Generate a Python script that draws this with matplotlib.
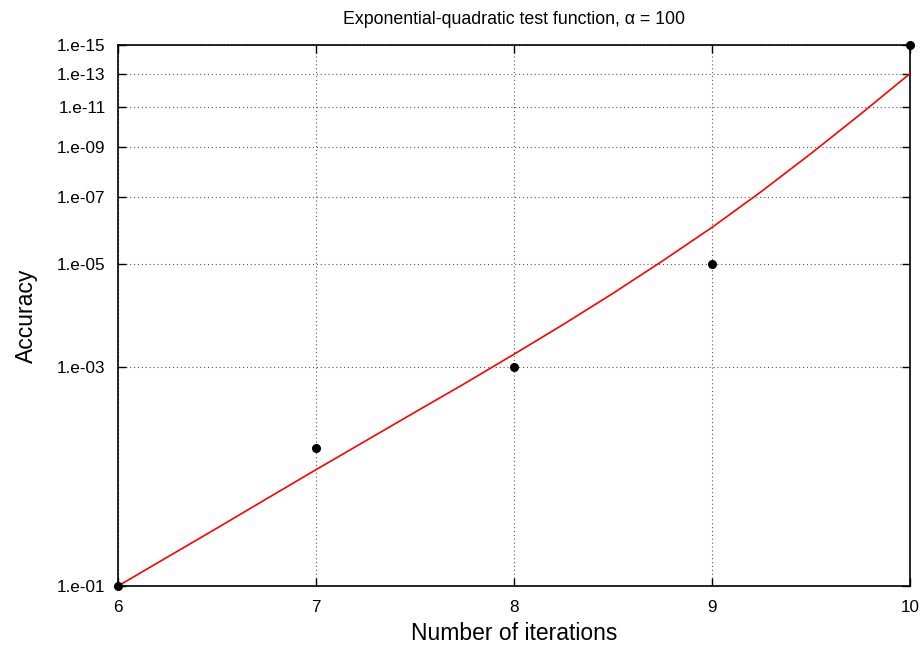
import numpy as np
import matplotlib
matplotlib.use("Agg")
import matplotlib.pyplot as plt
from matplotlib.ticker import FixedLocator, NullLocator

plt.rcParams['font.family'] = ['Liberation Sans', 'DejaVu Sans']

# measured accuracy, stored as number of correct digits (accuracy = 10^-digits)
iters = [6, 7, 8, 9, 10]
digits = [1, 2, 3, 5, 15]

# predicted accuracy curve
curve_x = [6.0, 6.25, 6.5, 6.75, 7.0, 7.25, 7.5, 7.75, 8.0,
           8.25, 8.5, 8.75, 9.0, 9.25, 9.5, 9.75, 10.0]
curve_digits = [1.0, 1.156, 1.336, 1.547, 1.79, 2.067, 2.387, 2.754, 3.19,
                3.706, 4.328, 5.089, 6.02, 7.207, 8.714, 10.61, 13.0]

ytick_digits = [1, 3, 5, 7, 9, 11, 13, 15]
ytick_labels = ["1.e-%02d" % d for d in ytick_digits]
xticks = [6, 7, 8, 9, 10]

fig = plt.figure(figsize=(9.21, 6.48), dpi=100)
ax = fig.add_axes([118 / 921, 1 - 586 / 648, (910 - 118) / 921, (586 - 45) / 648])

ax.plot(curve_x, curve_digits, color='red', lw=1.2, zorder=3)
ax.plot(iters, digits, 'o', color='black', ms=5.5, zorder=4, clip_on=False)

ax.set_yscale('log')
ax.set_xlim(6, 10)
ax.set_ylim(1, 15)
ax.yaxis.set_major_locator(FixedLocator(ytick_digits))
ax.yaxis.set_minor_locator(NullLocator())
ax.set_yticklabels(ytick_labels)
ax.set_xticks(xticks)

ax.grid(True, color='#555555', linestyle=(0, (1, 2.5)), linewidth=0.8)
ax.tick_params(direction='in', length=6, width=1, top=True, right=True,
               labelsize=12.3)
ax.tick_params(axis='y', pad=9)
ax.tick_params(axis='x', pad=10)
for s in ax.spines.values():
    s.set_linewidth(1.2)

ax.set_xlabel("Number of iterations", fontsize=16.5, labelpad=5)
ax.set_ylabel("Accuracy", fontsize=16.5, labelpad=14)
ax.set_title("Exponential-quadratic test function, \u03b1 = 100", fontsize=12.8, pad=15)

fig.savefig("out.png", dpi=100)
